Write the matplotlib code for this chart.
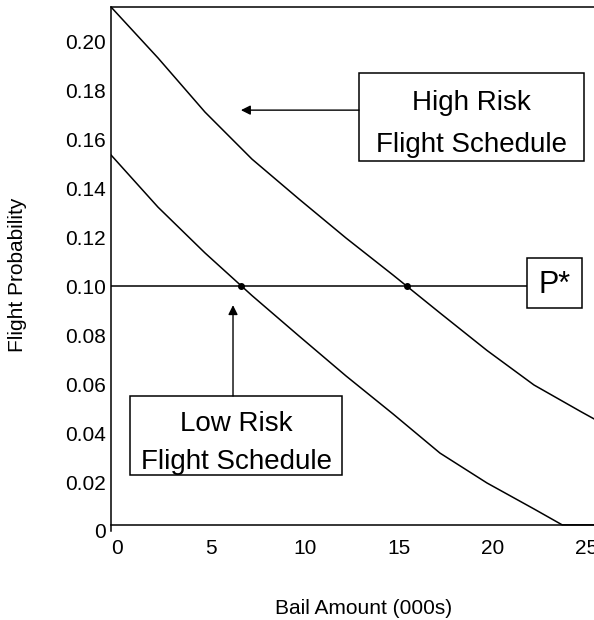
import numpy as np
import matplotlib
matplotlib.use("Agg")
from matplotlib import pyplot as plt
from matplotlib import transforms
from matplotlib.patches import Rectangle

# data (bail in $000s)
high_x = [0, 2.5, 5, 7.5, 10, 12.5, 15, 17.5, 20, 22.5, 25, 28]
high_risk = [0.2139, 0.1931, 0.171, 0.1518, 0.1355, 0.1196, 0.1045, 0.089, 0.0737, 0.0596, 0.0487, 0.036]
low_x = [0, 2.5, 5, 7.5, 10, 12.5, 15, 17.5, 20, 22.5, 24, 28]
low_risk = [0.1535, 0.1322, 0.1135, 0.0961, 0.0796, 0.0633, 0.0478, 0.0318, 0.0196, 0.009, 0.0025, 0.0025]
p_star = 0.10

x_ticks = [0, 5, 10, 15, 20, 25]
y_ticks = [0, 0.02, 0.04, 0.06, 0.08, 0.10, 0.12, 0.14, 0.16, 0.18, 0.20]
y_tick_labels = ["0", "0.02", "0.04", "0.06", "0.08", "0.10", "0.12", "0.14", "0.16", "0.18", "0.20"]

plt.rcParams["font.family"] = ["Liberation Sans", "DejaVu Sans"]

fig = plt.figure(figsize=(5.94, 6.2), dpi=100)
ax = fig.add_axes([0.18687, 0.14355, 0.8906, 0.84516])

ax.plot(high_x, high_risk, color="black", lw=1.1)
ax.plot(low_x, low_risk, color="black", lw=1.1)

# P* line and the two crossing points
box_p = (22.13, 0.0910, 2.92, 0.0204)
ax.plot([0, box_p[0]], [p_star, p_star], color="black", lw=1.1)
x_low = np.interp(p_star, low_risk[::-1], low_x[::-1])
x_high = np.interp(p_star, high_risk[::-1], high_x[::-1])
ax.plot([x_low, x_high], [p_star, p_star], "o", color="black", ms=4)

# boxes
boxes = [(13.19, 0.1510, 11.97, 0.0359), (1.01, 0.0229, 11.28, 0.0322), box_p]
for bx, by, bw, bh in boxes:
    ax.add_patch(Rectangle((bx, by), bw, bh, facecolor="white", edgecolor="black", lw=1.1, zorder=3))

ax.text(19.17, 0.1747, "High Risk", ha="center", va="center", fontsize=20, zorder=4)
ax.text(19.17, 0.1576, "Flight Schedule", ha="center", va="center", fontsize=20, zorder=4)
ax.text(6.65, 0.0437, "Low Risk", ha="center", va="center", fontsize=20, zorder=4)
ax.text(6.65, 0.0282, "Flight Schedule", ha="center", va="center", fontsize=20, zorder=4)
ax.text(23.59, 0.1006, "P*", ha="center", va="center", fontsize=22, zorder=4)

arrow = dict(arrowstyle="-|>", color="black", lw=1.0, mutation_scale=14, shrinkA=0, shrinkB=0)
ax.annotate("", xy=(6.91, 0.1718), xytext=(13.19, 0.1718), arrowprops=arrow)
ax.annotate("", xy=(6.49, 0.0922), xytext=(6.49, 0.0551), arrowprops=arrow)

ax.set_xlim(0, 28.14)
ax.set_ylim(0, 0.2139)
ax.spines["bottom"].set_position(("data", 0.0025))
ax.spines["right"].set_visible(False)
for s in ax.spines.values():
    s.set_linewidth(1.1)

ax.set_xticks(x_ticks)
ax.set_yticks(y_ticks)
ax.set_yticklabels(y_tick_labels)
ax.tick_params(axis="both", length=0, labelsize=15)
ax.tick_params(axis="x", pad=10.5)
ax.tick_params(axis="y", pad=3.6)

# the printed x labels sit a little right of the values
shift = transforms.ScaledTranslation(6 / 100, 0, fig.dpi_scale_trans)
for lab in ax.get_xticklabels():
    lab.set_transform(lab.get_transform() + shift)

ax.set_xlabel("Bail Amount (000s)", fontsize=15, va="center")
ax.xaxis.set_label_coords(0.478, -0.147)
ax.set_ylabel("Flight Probability", fontsize=15, va="center")
ax.yaxis.set_label_coords(-0.176, 0.4885)

plt.savefig("out.png", dpi=100)
